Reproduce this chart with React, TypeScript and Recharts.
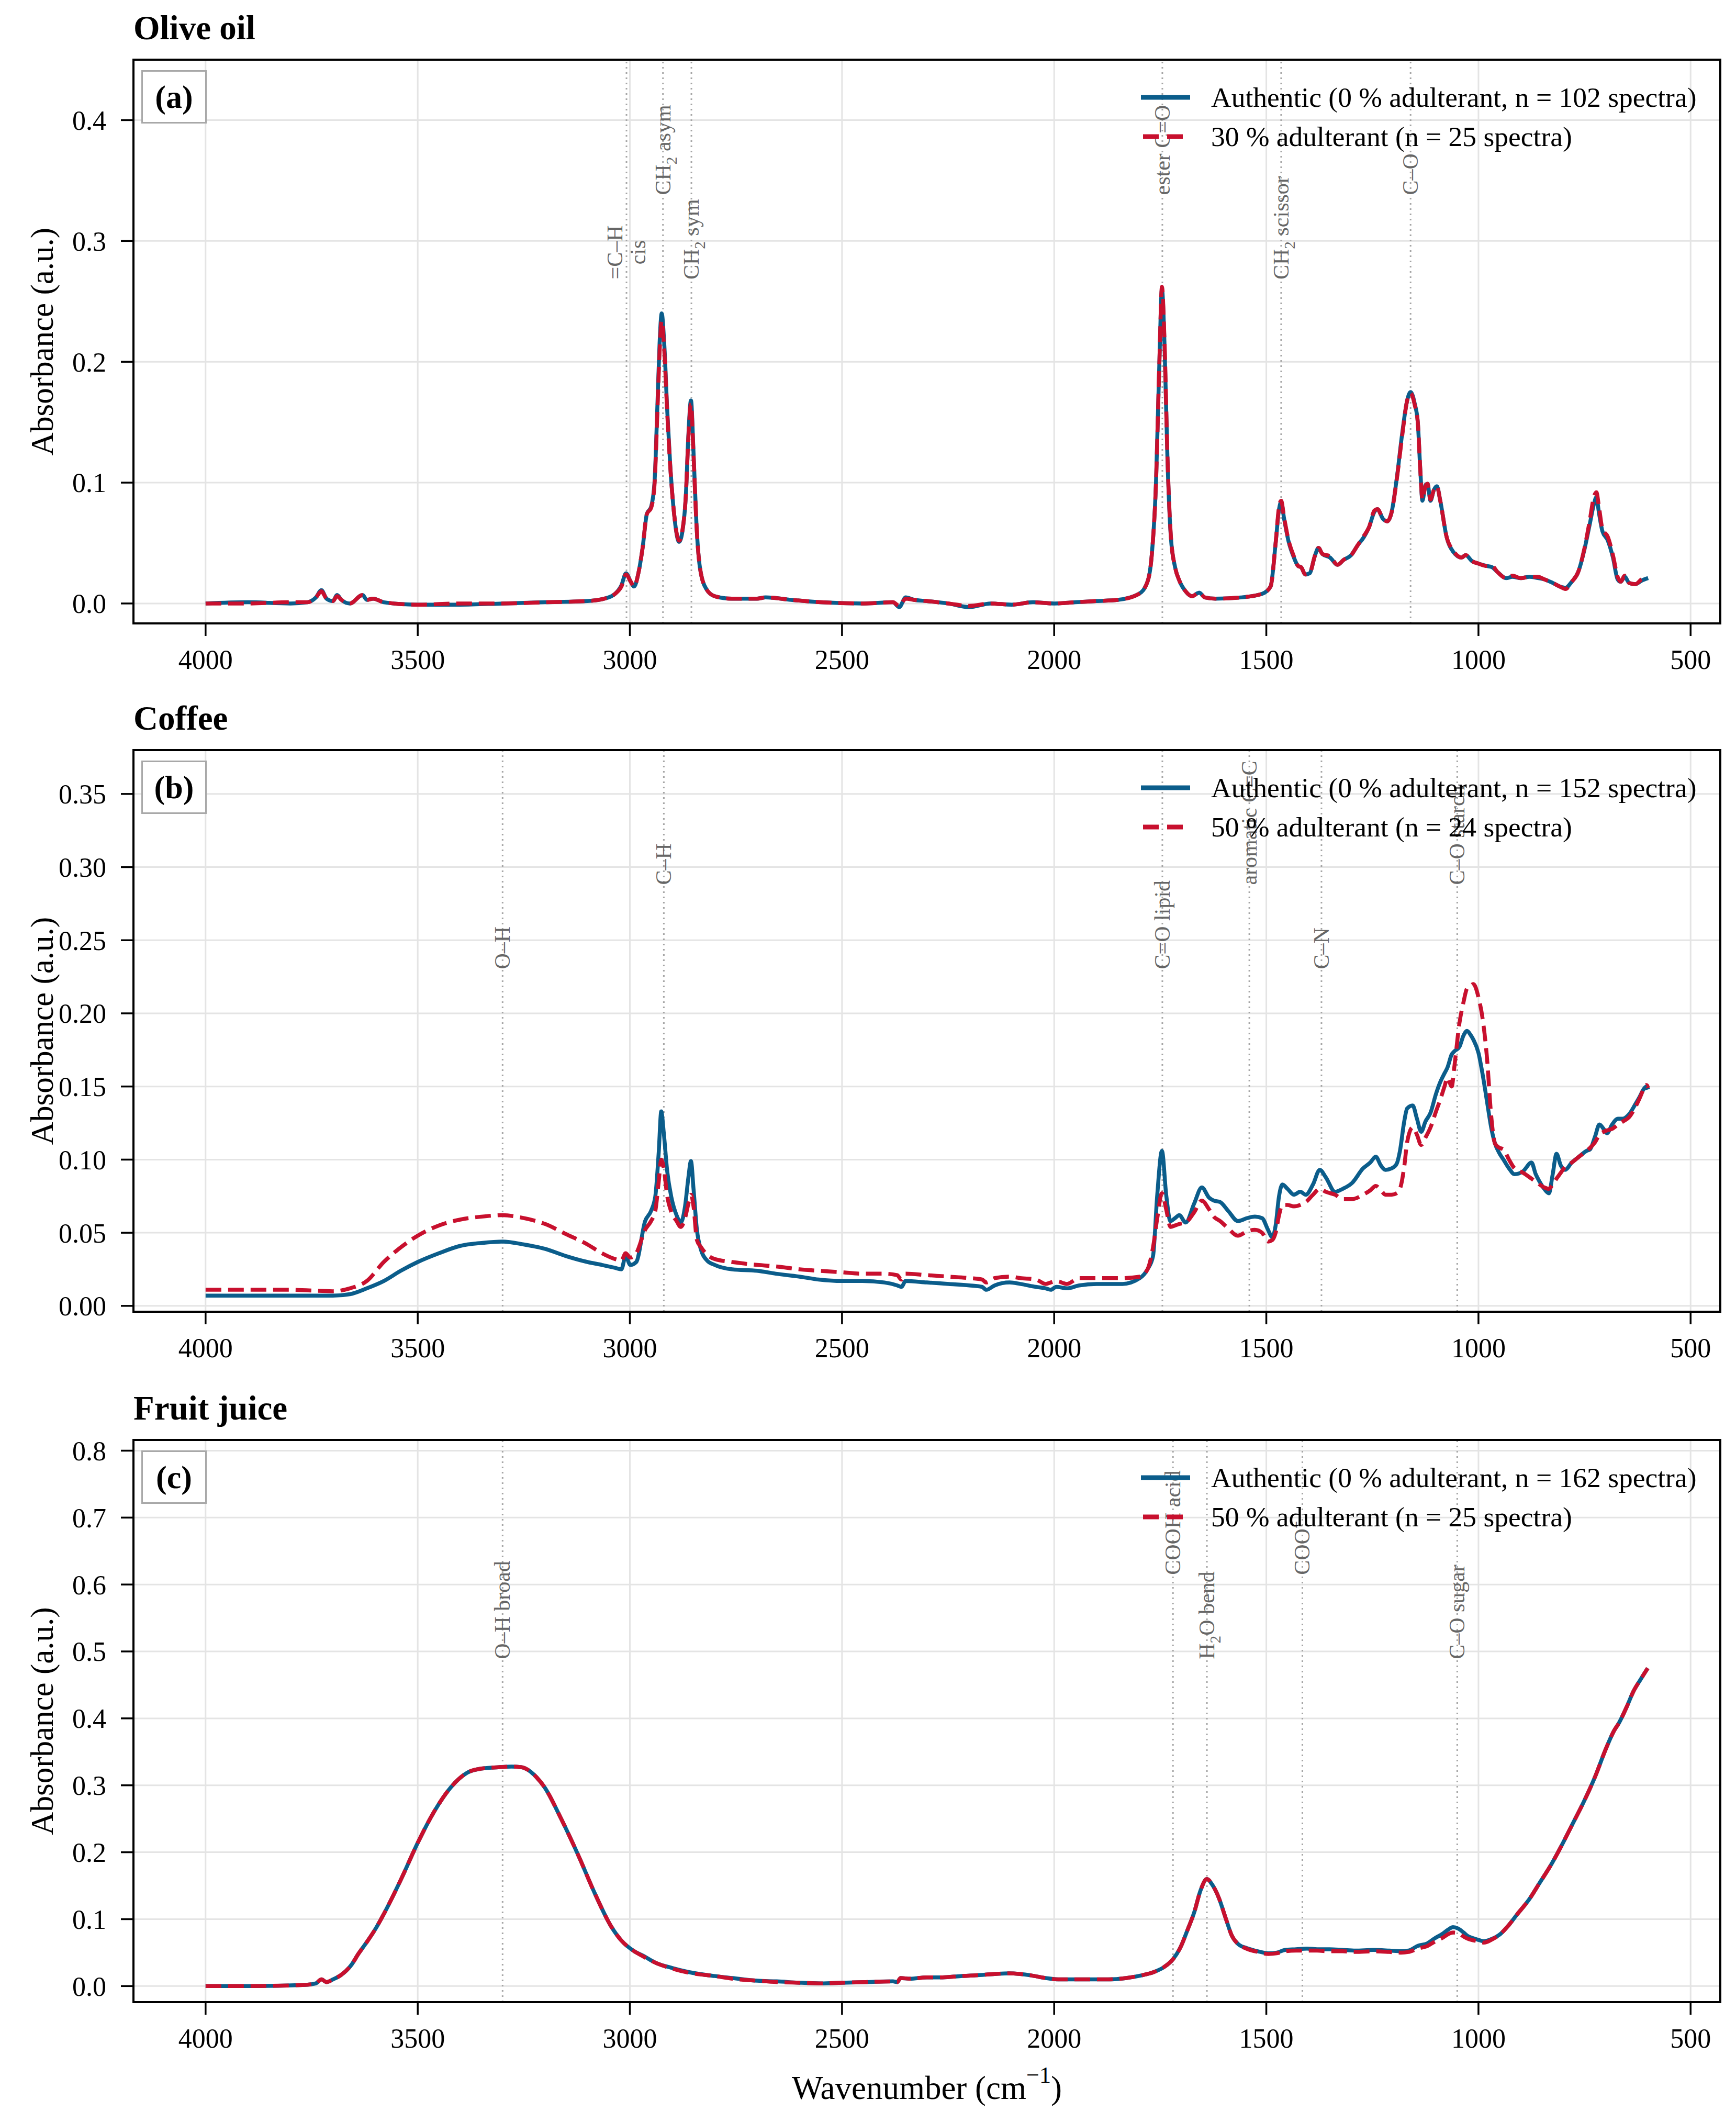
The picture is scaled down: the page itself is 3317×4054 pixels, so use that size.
import React from "react";
import {
  LineChart,
  Line,
  XAxis,
  YAxis,
  CartesianGrid,
  ReferenceLine,
  Legend,
} from "recharts";

// ---- olive oil ----
const oliveWn = [
  4000, 3900, 3800, 3760, 3740, 3727, 3715, 3700, 3690, 3680,
  3660, 3630, 3620, 3605, 3580, 3500, 3400, 3300, 3200, 3100,
  3060, 3035, 3020, 3009, 2998, 2990, 2980, 2970, 2960, 2950,
  2942, 2935, 2930, 2925, 2919, 2912, 2905, 2896, 2884, 2876,
  2868, 2862, 2856, 2850, 2843, 2835, 2820, 2800, 2760, 2700,
  2680, 2620, 2550, 2450, 2380, 2365, 2350, 2330, 2300, 2250,
  2200, 2150, 2100, 2050, 2000, 1950, 1900, 1850, 1800, 1780,
  1770, 1760, 1752, 1746, 1740, 1733, 1725, 1715, 1705, 1690,
  1675, 1658, 1645, 1620, 1560, 1510, 1490, 1478, 1470, 1465,
  1458, 1448, 1435, 1425, 1418, 1408, 1398, 1385, 1377, 1368,
  1350, 1332, 1318, 1300, 1285, 1270, 1258, 1245, 1238, 1225,
  1215, 1205, 1192, 1180, 1168, 1160, 1150, 1143, 1137, 1132,
  1125, 1120, 1113, 1105, 1098, 1090, 1075, 1060, 1040, 1030,
  1015, 1000, 980, 968, 955, 935, 920, 900, 880, 860,
  845, 825, 808, 795, 780, 765, 750, 738, 728, 722,
  716, 708, 695, 683, 672, 665, 655, 645, 630, 615,
  600,
];
const oliveAuth = [
  0.000, 0.001, 0.000, 0.001, 0.005, 0.011, 0.004, 0.002, 0.007, 0.003,
  0.000, 0.007, 0.003, 0.004, 0.001, -0.001, -0.001, 0.000, 0.001, 0.002,
  0.004, 0.008, 0.015, 0.025, 0.018, 0.014, 0.025, 0.046, 0.074, 0.080,
  0.100, 0.165, 0.215, 0.240, 0.215, 0.160, 0.115, 0.075, 0.051, 0.060,
  0.090, 0.140, 0.168, 0.125, 0.065, 0.030, 0.012, 0.006, 0.004, 0.004,
  0.005, 0.003, 0.001, 0.000, 0.001, -0.003, 0.005, 0.003, 0.002, 0.000,
  -0.003, 0.000, -0.001, 0.001, 0.000, 0.001, 0.002, 0.003, 0.008, 0.018,
  0.040, 0.100, 0.200, 0.260, 0.215, 0.120, 0.055, 0.030, 0.019, 0.010,
  0.006, 0.009, 0.005, 0.004, 0.005, 0.008, 0.014, 0.050, 0.078, 0.084,
  0.070, 0.052, 0.038, 0.031, 0.030, 0.024, 0.025, 0.040, 0.046, 0.041,
  0.038, 0.032, 0.036, 0.040, 0.048, 0.055, 0.063, 0.076, 0.078, 0.070,
  0.068, 0.075, 0.105, 0.140, 0.168, 0.175, 0.165, 0.150, 0.110, 0.085,
  0.098, 0.099, 0.085, 0.094, 0.097, 0.085, 0.055, 0.043, 0.038, 0.040,
  0.035, 0.033, 0.031, 0.030, 0.026, 0.021, 0.022, 0.021, 0.022, 0.021,
  0.020, 0.017, 0.014, 0.013, 0.018, 0.026, 0.045, 0.065, 0.082, 0.088,
  0.075, 0.060, 0.052, 0.038, 0.020, 0.018, 0.022, 0.017, 0.016, 0.019,
  0.021,
];
const oliveAdult = [
  0.000, 0.000, 0.001, 0.001, 0.005, 0.010, 0.004, 0.002, 0.006, 0.003,
  0.000, 0.007, 0.003, 0.004, 0.001, -0.001, 0.000, 0.000, 0.001, 0.002,
  0.004, 0.008, 0.014, 0.024, 0.018, 0.014, 0.025, 0.046, 0.074, 0.079,
  0.098, 0.160, 0.208, 0.234, 0.210, 0.158, 0.114, 0.075, 0.052, 0.061,
  0.090, 0.138, 0.165, 0.123, 0.065, 0.030, 0.012, 0.006, 0.004, 0.004,
  0.005, 0.003, 0.001, 0.000, 0.001, -0.002, 0.004, 0.003, 0.002, 0.000,
  -0.002, 0.000, -0.001, 0.001, 0.000, 0.001, 0.002, 0.003, 0.008, 0.018,
  0.040, 0.100, 0.200, 0.262, 0.218, 0.122, 0.056, 0.030, 0.019, 0.010,
  0.006, 0.009, 0.005, 0.004, 0.005, 0.008, 0.014, 0.050, 0.080, 0.085,
  0.071, 0.053, 0.039, 0.031, 0.030, 0.024, 0.025, 0.040, 0.046, 0.041,
  0.039, 0.032, 0.036, 0.040, 0.048, 0.056, 0.063, 0.077, 0.078, 0.070,
  0.068, 0.075, 0.104, 0.138, 0.168, 0.174, 0.164, 0.150, 0.110, 0.086,
  0.097, 0.099, 0.086, 0.094, 0.097, 0.085, 0.055, 0.044, 0.038, 0.040,
  0.035, 0.033, 0.031, 0.031, 0.026, 0.021, 0.023, 0.021, 0.022, 0.022,
  0.020, 0.017, 0.014, 0.012, 0.018, 0.026, 0.046, 0.068, 0.088, 0.092,
  0.080, 0.062, 0.055, 0.040, 0.022, 0.018, 0.023, 0.017, 0.016, 0.020,
  0.021,
];
const olivePeaks = [3008, 2922, 2855, 1745, 1465, 1160];
const olivePeakLabels = ["=C–H\ncis", "CH_2 asym", "CH_2 sym", "ester C=O", "CH_2 scissor", "C–O"];
const oliveNames = ["Authentic (0 % adulterant, n = 102 spectra)", "30 % adulterant (n = 25 spectra)"];
const oliveYTicks = [0, 0.1, 0.2, 0.3, 0.4];

// ---- coffee ----
const coffeeWn = [
  4000, 3900, 3800, 3700, 3660, 3620, 3580, 3540, 3500, 3450,
  3400, 3350, 3300, 3250, 3200, 3150, 3100, 3066, 3035, 3020,
  3010, 2999, 2985, 2964, 2950, 2940, 2932, 2926, 2920, 2912,
  2902, 2890, 2880, 2870, 2862, 2856, 2850, 2842, 2832, 2818,
  2800, 2759, 2700, 2656, 2600, 2555, 2500, 2452, 2400, 2370,
  2360, 2350, 2300, 2248, 2200, 2170, 2160, 2140, 2105, 2080,
  2043, 2020, 2008, 1995, 1970, 1941, 1900, 1839, 1798, 1780,
  1767, 1757, 1746, 1736, 1726, 1715, 1705, 1690, 1670, 1652,
  1635, 1624, 1609, 1590, 1567, 1545, 1527, 1510, 1496, 1486,
  1478, 1470, 1462, 1450, 1435, 1420, 1407, 1390, 1374, 1360,
  1338, 1320, 1298, 1272, 1255, 1242, 1230, 1219, 1205, 1193,
  1185, 1175, 1168, 1155, 1145, 1135, 1125, 1113, 1100, 1090,
  1080, 1073, 1063, 1057, 1045, 1035, 1027, 1018, 1012, 1000,
  990, 980, 970, 961, 950, 941, 928, 915, 895, 875,
  865, 856, 845, 834, 825, 816, 806, 796, 780, 763,
  745, 737, 725, 715, 705, 697, 685, 671, 660, 645,
  630, 620, 611, 604, 600,
];
const coffeeAuth = [
  0.007, 0.007, 0.007, 0.007, 0.008, 0.012, 0.017, 0.024, 0.030, 0.036,
  0.041, 0.043, 0.044, 0.042, 0.039, 0.034, 0.030, 0.028, 0.026, 0.025,
  0.034, 0.028, 0.030, 0.058, 0.065, 0.075, 0.105, 0.133, 0.118, 0.092,
  0.074, 0.062, 0.057, 0.068, 0.088, 0.099, 0.080, 0.052, 0.038, 0.031,
  0.028, 0.025, 0.024, 0.022, 0.020, 0.018, 0.017, 0.017, 0.016, 0.014,
  0.013, 0.017, 0.016, 0.015, 0.014, 0.013, 0.011, 0.014, 0.016, 0.015,
  0.013, 0.012, 0.011, 0.013, 0.012, 0.014, 0.015, 0.015, 0.019, 0.025,
  0.034, 0.076, 0.106, 0.076, 0.058, 0.060, 0.062, 0.057, 0.070, 0.081,
  0.074, 0.072, 0.071, 0.065, 0.058, 0.060, 0.061, 0.060, 0.052, 0.047,
  0.055, 0.075, 0.083, 0.080, 0.076, 0.078, 0.076, 0.083, 0.093, 0.088,
  0.078, 0.080, 0.084, 0.094, 0.098, 0.102, 0.096, 0.093, 0.094, 0.097,
  0.106, 0.126, 0.135, 0.137, 0.128, 0.119, 0.126, 0.132, 0.145, 0.153,
  0.159, 0.163, 0.172, 0.174, 0.177, 0.185, 0.188, 0.185, 0.182, 0.173,
  0.158, 0.140, 0.122, 0.111, 0.104, 0.100, 0.094, 0.090, 0.092, 0.098,
  0.090, 0.085, 0.080, 0.077, 0.090, 0.104, 0.096, 0.093, 0.098, 0.102,
  0.106, 0.107, 0.116, 0.124, 0.121, 0.118, 0.124, 0.128, 0.128, 0.131,
  0.138, 0.143, 0.148, 0.150, 0.148,
];
const coffeeAdult = [
  0.011, 0.011, 0.011, 0.010, 0.012, 0.017, 0.030, 0.040, 0.048, 0.055,
  0.059, 0.061, 0.062, 0.060, 0.056, 0.049, 0.042, 0.036, 0.032, 0.031,
  0.036, 0.033, 0.036, 0.052, 0.058, 0.065, 0.085, 0.100, 0.094, 0.075,
  0.064, 0.058, 0.054, 0.060, 0.070, 0.076, 0.068, 0.045, 0.040, 0.035,
  0.032, 0.030, 0.028, 0.027, 0.025, 0.024, 0.023, 0.022, 0.022, 0.021,
  0.018, 0.022, 0.021, 0.020, 0.019, 0.018, 0.016, 0.019, 0.020, 0.019,
  0.018, 0.015, 0.016, 0.017, 0.015, 0.019, 0.019, 0.019, 0.020, 0.025,
  0.040, 0.060, 0.077, 0.066, 0.054, 0.055, 0.056, 0.057, 0.064, 0.072,
  0.066, 0.061, 0.058, 0.053, 0.048, 0.051, 0.052, 0.050, 0.044, 0.045,
  0.050, 0.062, 0.069, 0.069, 0.068, 0.069, 0.071, 0.076, 0.080, 0.078,
  0.076, 0.073, 0.073, 0.076, 0.079, 0.082, 0.079, 0.076, 0.076, 0.077,
  0.080, 0.095, 0.112, 0.122, 0.117, 0.110, 0.115, 0.122, 0.133, 0.141,
  0.150, 0.156, 0.150, 0.163, 0.193, 0.208, 0.217, 0.219, 0.220, 0.211,
  0.196, 0.170, 0.130, 0.111, 0.108, 0.107, 0.100, 0.094, 0.091, 0.087,
  0.085, 0.083, 0.081, 0.080, 0.083, 0.087, 0.091, 0.095, 0.098, 0.102,
  0.106, 0.108, 0.112, 0.117, 0.119, 0.120, 0.121, 0.124, 0.126, 0.129,
  0.136, 0.142, 0.148, 0.151, 0.149,
];
const coffeePeaks = [3300, 2920, 1745, 1540, 1370, 1050];
const coffeePeakLabels = ["O–H", "C–H", "C=O lipid", "aromatic C=C", "C–N", "C–O starch"];
const coffeeNames = ["Authentic (0 % adulterant, n = 152 spectra)", "50 % adulterant (n = 24 spectra)"];
const coffeeYTicks = [0, 0.05, 0.1, 0.15, 0.2, 0.25, 0.3, 0.35];

// ---- fruit juice ----
const juiceWn = [
  4000, 3900, 3800, 3760, 3740, 3727, 3715, 3700, 3682, 3656,
  3640, 3622, 3600, 3578, 3539, 3500, 3461, 3422, 3383, 3350,
  3310, 3279, 3255, 3240, 3220, 3201, 3162, 3122, 3083, 3044,
  3020, 2992, 2965, 2940, 2900, 2862, 2800, 2758, 2700, 2654,
  2600, 2550, 2500, 2445, 2380, 2370, 2362, 2340, 2300, 2263,
  2220, 2185, 2140, 2107, 2080, 2055, 2020, 1990, 1950, 1900,
  1873, 1830, 1794, 1765, 1742, 1720, 1703, 1685, 1670, 1655,
  1640, 1628, 1612, 1595, 1581, 1565, 1547, 1520, 1495, 1475,
  1456, 1430, 1404, 1380, 1352, 1320, 1290, 1248, 1210, 1183,
  1165, 1143, 1120, 1104, 1085, 1070, 1060, 1048, 1035, 1026,
  1010, 995, 987, 970, 948, 930, 909, 880, 857, 830,
  804, 780, 752, 725, 700, 680, 669, 650, 635, 618,
  601,
];
const juiceAuth = [
  0.000, 0.000, 0.001, 0.002, 0.004, 0.010, 0.006, 0.010, 0.016, 0.032,
  0.048, 0.064, 0.085, 0.110, 0.160, 0.214, 0.261, 0.297, 0.319, 0.325,
  0.327, 0.328, 0.327, 0.323, 0.312, 0.297, 0.250, 0.196, 0.139, 0.089,
  0.068, 0.053, 0.044, 0.035, 0.027, 0.021, 0.015, 0.012, 0.008, 0.007,
  0.005, 0.004, 0.005, 0.006, 0.007, 0.006, 0.012, 0.011, 0.013, 0.013,
  0.015, 0.016, 0.018, 0.019, 0.018, 0.016, 0.012, 0.010, 0.010, 0.010,
  0.010, 0.012, 0.016, 0.021, 0.028, 0.040, 0.057, 0.085, 0.110, 0.143,
  0.160, 0.152, 0.132, 0.100, 0.075, 0.062, 0.057, 0.052, 0.049, 0.050,
  0.054, 0.055, 0.056, 0.055, 0.055, 0.054, 0.053, 0.054, 0.053, 0.052,
  0.053, 0.060, 0.064, 0.071, 0.078, 0.085, 0.088, 0.086, 0.080, 0.075,
  0.071, 0.068, 0.067, 0.070, 0.078, 0.090, 0.107, 0.130, 0.153, 0.180,
  0.210, 0.240, 0.275, 0.313, 0.354, 0.382, 0.393, 0.418, 0.440, 0.458,
  0.475,
];
const juiceAdult = [
  0.000, 0.000, 0.001, 0.002, 0.004, 0.010, 0.006, 0.010, 0.016, 0.032,
  0.048, 0.064, 0.085, 0.110, 0.160, 0.214, 0.261, 0.297, 0.319, 0.325,
  0.327, 0.328, 0.327, 0.323, 0.312, 0.297, 0.250, 0.196, 0.139, 0.089,
  0.068, 0.053, 0.043, 0.035, 0.026, 0.020, 0.015, 0.011, 0.008, 0.006,
  0.005, 0.004, 0.005, 0.006, 0.007, 0.006, 0.012, 0.011, 0.013, 0.013,
  0.015, 0.016, 0.018, 0.019, 0.018, 0.016, 0.012, 0.010, 0.010, 0.010,
  0.010, 0.012, 0.016, 0.021, 0.028, 0.040, 0.057, 0.085, 0.110, 0.143,
  0.160, 0.152, 0.132, 0.100, 0.075, 0.062, 0.056, 0.051, 0.048, 0.049,
  0.052, 0.053, 0.053, 0.053, 0.052, 0.052, 0.051, 0.052, 0.051, 0.050,
  0.051, 0.056, 0.060, 0.066, 0.072, 0.078, 0.080, 0.079, 0.074, 0.071,
  0.068, 0.066, 0.065, 0.069, 0.078, 0.090, 0.107, 0.130, 0.153, 0.180,
  0.210, 0.240, 0.275, 0.313, 0.354, 0.382, 0.393, 0.418, 0.440, 0.458,
  0.475,
];
const juicePeaks = [3300, 1720, 1640, 1415, 1050];
const juicePeakLabels = ["O–H broad", "COOH acid", "H_2O bend", "COO⁻", "C–O sugar"];
const juiceNames = ["Authentic (0 % adulterant, n = 162 spectra)", "50 % adulterant (n = 25 spectra)"];
const juiceYTicks = [0, 0.1, 0.2, 0.3, 0.4, 0.5, 0.6, 0.7, 0.8];

const xTicks = [4000, 3500, 3000, 2500, 2000, 1500, 1000, 500];

const PAGE_W = 3317;
const PAGE_H = 4054;
const PLOT_L = 255;
const PLOT_R = 3287;
const Y_AXIS_W = 150;
const X_AXIS_H = 100;
const BLUE = "#0b5d8b";
const RED = "#c8102e";
const SERIF = "'Liberation Serif', 'Times New Roman', serif";

// "_x" marks a one-character subscript
function Rich({ s }: { s: string }) {
  const parts = s.split("_");
  return (
    <>
      {parts.map((p, i) =>
        i === 0 ? (
          <tspan key={i}>{p}</tspan>
        ) : (
          <React.Fragment key={i}>
            <tspan baselineShift="sub" fontSize="70%">{p[0]}</tspan>
            <tspan>{p.slice(1)}</tspan>
          </React.Fragment>
        )
      )}
    </>
  );
}

function PeakLabel(props: any) {
  const { viewBox, text, high } = props;
  if (!viewBox) return null;
  const x = viewBox.x;
  const y = viewBox.y + viewBox.height * (1 - (high ? 0.76 : 0.61));
  const lines: string[] = text.split("\n");
  const fs = 42;
  const multi = lines.length > 1;
  const longest = Math.max(...lines.map((l) => l.length));
  return (
    <g>
      {lines.map((line, k) => {
        const lx = x + (k - (lines.length - 1) / 2) * 44;
        const ly = multi ? y - (longest * fs * 0.62) / 2 : y;
        return (
          <text
            key={k}
            x={lx}
            y={ly}
            transform={`rotate(-90 ${lx} ${ly})`}
            textAnchor={multi ? "middle" : "start"}
            dominantBaseline="central"
            fontFamily={SERIF}
            fontSize={fs}
            fill="#666"
          >
            <Rich s={line} />
          </text>
        );
      })}
    </g>
  );
}

function YTitle(props: any) {
  const vb = props.viewBox;
  if (!vb) return null;
  const x = 80;
  const cy = vb.y + vb.height / 2;
  return (
    <text
      x={x}
      y={cy}
      transform={`rotate(-90 ${x} ${cy})`}
      textAnchor="middle"
      dominantBaseline="central"
      fontFamily={SERIF}
      fontSize={61}
      fill="#000"
    >
      Absorbance (a.u.)
    </text>
  );
}

function XTitle(props: any) {
  const vb = props.viewBox;
  if (!vb) return null;
  return (
    <text
      x={vb.x + vb.width / 2}
      y={vb.y + 164}
      textAnchor="middle"
      dominantBaseline="central"
      fontFamily={SERIF}
      fontSize={63}
      fill="#000"
    >
      Wavenumber (cm<tspan baselineShift="super" fontSize="70%">−1</tspan>)
    </text>
  );
}

function LegendBox({ names }: { names: string[] }) {
  return (
    <div style={{ fontFamily: SERIF, fontSize: 53.5, color: "#000" }}>
      {names.map((n, i) => (
        <div key={n} style={{ display: "flex", alignItems: "center", height: 75, whiteSpace: "nowrap" }}>
          <svg width={94} height={20} style={{ marginRight: 40, flex: "none" }}>
            <line
              x1={i === 0 ? 0 : 4}
              y1={10}
              x2={94}
              y2={10}
              stroke={i === 0 ? BLUE : RED}
              strokeWidth={9}
              strokeDasharray={i === 0 ? undefined : "30 16"}
            />
          </svg>
          <span>{n}</span>
        </div>
      ))}
    </div>
  );
}

type PanelProps = {
  chartTop: number;
  plotTop: number;
  plotH: number;
  chartH: number;
  title: string;
  tag: string;
  wn: number[];
  auth: number[];
  adult: number[];
  names: string[];
  peaks: number[];
  peakLabels: string[];
  yDomain: [number, number];
  yTicks: number[];
  yDigits: number;
  showXLabel?: boolean;
};

function Panel(p: PanelProps) {
  const mTop = p.plotTop - p.chartTop;
  const mBottom = p.chartH - mTop - p.plotH - X_AXIS_H;
  const rows = p.wn.map((w, i) => ({ wn: w, auth: p.auth[i], adult: p.adult[i] }));
  const tickStyle = { fill: "#000", fontSize: 52, fontFamily: SERIF };
  const tickLine = { stroke: "#000", strokeWidth: 3.5 };

  return (
    <>
      <div style={{ position: "absolute", left: 0, top: p.chartTop, width: PAGE_W, height: p.chartH }}>
        <LineChart
          width={PAGE_W}
          height={p.chartH}
          data={rows}
          margin={{ top: mTop, right: PAGE_W - PLOT_R, bottom: mBottom, left: PLOT_L - Y_AXIS_W }}
        >
          <CartesianGrid stroke="#e4e4e4" strokeWidth={3} />
          <XAxis
            dataKey="wn"
            type="number"
            domain={[430, 4170]}
            reversed
            allowDataOverflow
            ticks={xTicks}
            interval={0}
            height={X_AXIS_H}
            tickSize={24}
            tickMargin={26}
            axisLine={false}
            tickLine={tickLine}
            tick={tickStyle}
            label={p.showXLabel ? <XTitle /> : undefined}
          />
          <YAxis
            type="number"
            domain={p.yDomain}
            allowDataOverflow
            ticks={p.yTicks}
            interval={0}
            width={Y_AXIS_W}
            tickSize={24}
            tickMargin={28}
            axisLine={false}
            tickLine={tickLine}
            tick={tickStyle}
            tickFormatter={(v: number) => v.toFixed(p.yDigits)}
            label={<YTitle />}
          />
          {p.peaks.map((pk, i) => (
            <ReferenceLine
              key={pk}
              x={pk}
              stroke="#a5a5a5"
              strokeWidth={3}
              strokeDasharray="3 7"
              label={<PeakLabel text={p.peakLabels[i]} high={i % 2 === 1} />}
            />
          ))}
          <Line
            type="monotone"
            dataKey="auth"
            name={p.names[0]}
            stroke={BLUE}
            strokeWidth={7.5}
            dot={false}
            activeDot={false}
            isAnimationActive={false}
          />
          <Line
            type="monotone"
            dataKey="adult"
            name={p.names[1]}
            stroke={RED}
            strokeWidth={7.5}
            strokeDasharray="30 13"
            dot={false}
            activeDot={false}
            isAnimationActive={false}
          />
          <Legend
            layout="horizontal"
            verticalAlign="middle"
            align="center"
            wrapperStyle={{ left: 2180, top: mTop + 34, width: 1120 }}
            content={() => <LegendBox names={p.names} />}
          />
        </LineChart>
      </div>
      <div
        style={{
          position: "absolute",
          left: PLOT_L - 2,
          top: p.plotTop - 2,
          width: PLOT_R - PLOT_L + 4,
          height: p.plotH + 4,
          border: "4px solid #000",
          boxSizing: "border-box",
          pointerEvents: "none",
        }}
      />
      <div
        style={{
          position: "absolute",
          left: PLOT_L,
          top: p.plotTop - 93,
          fontFamily: SERIF,
          fontWeight: "bold",
          fontSize: 65,
          lineHeight: 1,
          color: "#000",
          whiteSpace: "nowrap",
        }}
      >
        {p.title}
      </div>
      <div
        style={{
          position: "absolute",
          left: 270,
          top: p.plotTop + 20,
          width: 125,
          height: 102,
          border: "3px solid #a8a8a8",
          background: "#fff",
          boxSizing: "border-box",
          display: "flex",
          alignItems: "center",
          justifyContent: "center",
          fontFamily: SERIF,
          fontWeight: "bold",
          fontSize: 62,
          color: "#000",
        }}
      >
        {p.tag}
      </div>
    </>
  );
}

export default function App() {
  return (
    <div
      style={{
        position: "absolute",
        left: 0,
        top: 0,
        width: PAGE_W,
        height: PAGE_H,
        background: "#fff",
        overflow: "hidden",
      }}
    >
      <Panel
        chartTop={0}
        plotTop={114}
        plotH={1077}
        chartH={1311}
        title="Olive oil"
        tag="(a)"
        wn={oliveWn}
        auth={oliveAuth}
        adult={oliveAdult}
        names={oliveNames}
        peaks={olivePeaks}
        peakLabels={olivePeakLabels}
        yDomain={[-0.0165, 0.45]}
        yTicks={oliveYTicks}
        yDigits={1}
      />
      <Panel
        chartTop={1313}
        plotTop={1433}
        plotH={1073}
        chartH={1313}
        title="Coffee"
        tag="(b)"
        wn={coffeeWn}
        auth={coffeeAuth}
        adult={coffeeAdult}
        names={coffeeNames}
        peaks={coffeePeaks}
        peakLabels={coffeePeakLabels}
        yDomain={[-0.004, 0.38]}
        yTicks={coffeeYTicks}
        yDigits={2}
      />
      <Panel
        chartTop={2631}
        plotTop={2751}
        plotH={1074}
        chartH={1423}
        title="Fruit juice"
        tag="(c)"
        wn={juiceWn}
        auth={juiceAuth}
        adult={juiceAdult}
        names={juiceNames}
        peaks={juicePeaks}
        peakLabels={juicePeakLabels}
        yDomain={[-0.024, 0.816]}
        yTicks={juiceYTicks}
        yDigits={1}
        showXLabel
      />
    </div>
  );
}
